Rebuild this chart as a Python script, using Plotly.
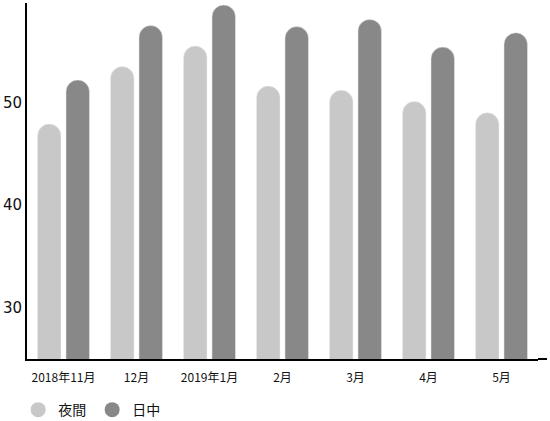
import plotly.graph_objects as go

months = ['2018年11月', '12月', '2019年1月', '2月', '3月', '4月', '5月']
night = [47.9, 53.5, 55.5, 51.6, 51.2, 50.1, 49.0]
day = [52.2, 57.5, 59.5, 57.4, 58.1, 55.4, 56.8]

light = '#c8c8c8'
dark = '#888888'

fig = go.Figure()

fig.add_trace(go.Bar(x=months, y=night, name='夜間', marker_color=light,
                     marker_cornerradius='50%', showlegend=False))
fig.add_trace(go.Bar(x=months, y=day, name='日中', marker_color=dark,
                     marker_cornerradius='50%', showlegend=False))

# round markers for the legend
fig.add_trace(go.Scatter(x=[None], y=[None], mode='markers', name='夜間',
                         marker=dict(color=light, size=15, symbol='circle')))
fig.add_trace(go.Scatter(x=[None], y=[None], mode='markers', name='日中',
                         marker=dict(color=dark, size=15, symbol='circle')))

fig.update_layout(
    width=550, height=421,
    margin=dict(l=27, r=12, t=3, b=62),
    paper_bgcolor='white', plot_bgcolor='white',
    barmode='group', bargap=0.22, bargroupgap=0.175,
    font=dict(family='Noto Sans CJK JP', color='#111111'),
    legend=dict(orientation='h', xref='container', x=0.033, yref='container', y=0.026,
                yanchor='middle', font=dict(size=14), itemwidth=30,
                entrywidth=29, entrywidthmode='pixels'),
    xaxis=dict(showline=True, linecolor='black', linewidth=2, ticks='',
               tickfont=dict(size=12), ticklabelstandoff=7, showgrid=False),
    yaxis=dict(range=[25, 59.7], tickvals=[30, 40, 50], showgrid=False,
               zeroline=False, showline=True, linecolor='black', linewidth=2,
               ticks='', tickfont=dict(family='DejaVu Sans', size=15)),
    shapes=[dict(type='line', xref='paper', yref='paper', x0=1, x1=1.0176,
                 y0=0, y1=0, line=dict(color='black', width=2))],
)

# drop the page's default body margin so the figure sits at 0,0
fig.write_html('out.html', config={'displayModeBar': False},
               post_script="document.body.style.margin='0';")
